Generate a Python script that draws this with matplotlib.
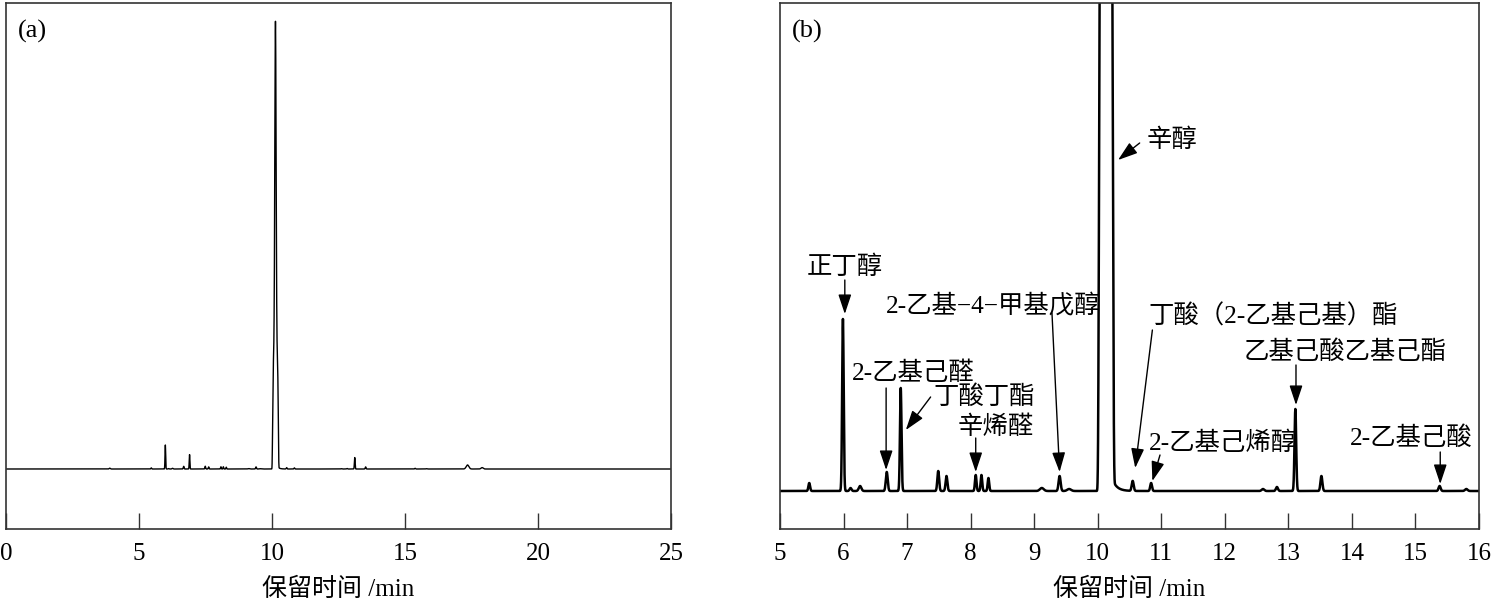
import numpy as np
import matplotlib
matplotlib.use("Agg")
import matplotlib.pyplot as plt

plt.rcParams['font.family'] = ['Liberation Serif', 'Noto Sans CJK SC']

# ---------------- data ----------------
# retention time (min), peak height (intensity units of panel b), peak sigma (min)
peak_rt = [3.90, 5.46, 5.99, 6.11, 6.26, 6.68, 6.90, 7.49, 7.62, 8.08, 8.17, 8.28,
           9.12, 9.40, 9.55, 10.55, 10.84, 12.60, 12.82, 13.11, 13.52, 15.38,
           15.80, 17.35, 17.90]
peak_height = [6, 8, 172, 3, 5, 19, 103, 20, 15, 16, 16, 13,
               3, 15, 2, 10, 8, 2, 4, 82, 15, 5,
               2, 29, 10]
peak_sigma = [0.02, 0.013, 0.012, 0.015, 0.02, 0.015, 0.012, 0.014, 0.014, 0.012, 0.012, 0.012,
              0.03, 0.016, 0.03, 0.015, 0.014, 0.02, 0.016, 0.013, 0.015, 0.016,
              0.02, 0.05, 0.04]

# main (overloaded) peak 辛醇: a flat-topped base plus a narrow apex
main_rt = 10.13
main_part_height = [800, 2410]
main_part_width = [0.11, 0.035]
main_part_power = [8, 2]
main_tail_amp = 12
main_tail_tau = 0.07

ticks_a = [0, 5, 10, 15, 20, 25]
ticks_b = [5, 6, 7, 8, 9, 10, 11, 12, 13, 14, 15, 16]

# annotations for panel b: label, text position, arrow tail, arrow tip
ann_labels = ['正丁醇', '2-乙基己醛', '丁酸丁酯', '辛烯醛', '2-乙基−4−甲基戊醇',
              '辛醇', '丁酸（2-乙基己基）酯', '乙基己酸乙基己酯', '2-乙基己烯醇', '2-乙基己酸']
ann_text_x = [6.02, 7.09, 8.21, 8.40, 8.36, 11.17, 12.76, 13.89, 11.97, 14.94]
ann_text_y = [224, 118, 94, 64, 185, 351, 175, 139, 48, 53]
ann_tail_x = [6.02, 6.67, 7.37, 8.08, 9.28, 10.66, 10.86, 13.12, 10.98, 15.39]
ann_tail_y = [211, 103, 94, 53, 178, 348, 161, 126, 36, 39]
ann_tip_x = [6.02, 6.67, 6.98, 8.08, 9.40, 10.32, 10.59, 13.12, 10.86, 15.39]
ann_tip_y = [177, 21, 61, 19, 19, 331, 23, 86, 10, 7]

# ---------------- signal ----------------
t = np.arange(0, 25.0005, 0.001)
sig = np.zeros_like(t)
for rt, h, s in zip(peak_rt, peak_height, peak_sigma):
    sig += h * np.exp(-0.5 * ((t - rt) / s) ** 2)
for h, w, p in zip(main_part_height, main_part_width, main_part_power):
    sig += h * np.exp(-(np.abs(t - main_rt) / w) ** p)
tail_start = main_rt + 0.10
mask = t > tail_start
sig[mask] += main_tail_amp * np.exp(-(t[mask] - tail_start) / main_tail_tau)

# ---------------- figure ----------------
fig = plt.figure(figsize=(14.96, 6.0), dpi=100)
ax_a = fig.add_axes([6 / 1496, 71 / 600, 665 / 1496, 526 / 600])
ax_b = fig.add_axes([780 / 1496, 71 / 600, 699 / 1496, 526 / 600])

scale_a = 7.17
spine_col = '#333333'

for ax in (ax_a, ax_b):
    for sp in ax.spines.values():
        sp.set_color(spine_col)
        sp.set_linewidth(1.2)
    ax.set_yticks([])
    ax.tick_params(axis='x', direction='in', length=11.5, width=1.0, color=spine_col,
                   labelsize=18, pad=10)
    ax.set_xlabel('保留时间 /min', fontsize=18, labelpad=9)

# panel a
ax_a.plot(t, sig, color='black', lw=1.0)
ax_a.set_xlim(0, 25)
ax_a.set_ylim(-60 * scale_a, 466 * scale_a)
ax_a.set_xticks(ticks_a)
ax_a.text(12 / 665, 1 - 28 / 526, '(a)', transform=ax_a.transAxes, fontsize=19,
          ha='left', va='center')

# panel b
ax_b.plot(t, sig, color='black', lw=1.8)
ax_b.set_xlim(5, 16)
ax_b.set_ylim(-38, 488)
ax_b.set_xticks(ticks_b)
ax_b.text(12 / 699, 1 - 28 / 526, '(b)', transform=ax_b.transAxes, fontsize=19,
          ha='left', va='center')

for lab, tx, ty, ax0, ay0, ax1, ay1 in zip(ann_labels, ann_text_x, ann_text_y,
                                           ann_tail_x, ann_tail_y, ann_tip_x, ann_tip_y):
    ax_b.text(tx, ty, lab, fontsize=18.3, ha='center', va='center')
    ax_b.annotate('', xy=(ax1, ay1), xytext=(ax0, ay0),
                  arrowprops=dict(arrowstyle='-|>,head_length=0.6,head_width=0.2',
                                  mutation_scale=20, color='black', lw=1.0,
                                  shrinkA=0, shrinkB=0))

fig.savefig('out.png', dpi=100)
